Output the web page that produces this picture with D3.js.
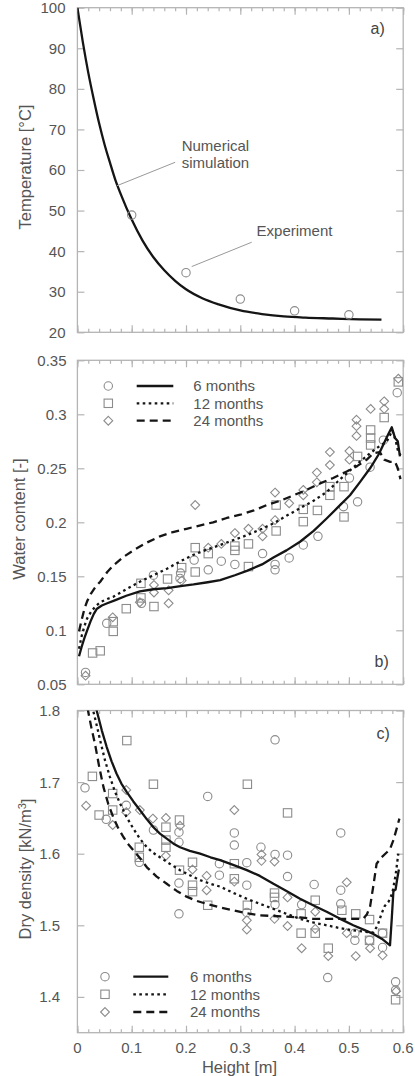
<!DOCTYPE html>
<html>
<head>
<meta charset="utf-8">
<script src="https://cdn.jsdelivr.net/npm/d3@7"></script>
<style>
  html, body { margin: 0; padding: 0; background: #fff; }
  svg { display: block; font-family: "Liberation Sans", Arial, sans-serif; }
</style>
</head>
<body>
<svg id="chart" width="415" height="1076"></svg>
<script>
// ---- tick labels ----
const heightTicks = [0, 0.1, 0.2, 0.3, 0.4, 0.5, 0.6];
const tempTicks = [20, 30, 40, 50, 60, 70, 80, 90, 100];
const waterTicks = [0.05, 0.1, 0.15, 0.2, 0.25, 0.3, 0.35];
const densityTicks = [1.4, 1.5, 1.6, 1.7, 1.8];
const seriesNames = ["6 months", "12 months", "24 months"];

// ---- a) temperature ----
const tempSimX = [0, 0.01, 0.02, 0.03, 0.04, 0.05, 0.06, 0.07, 0.08, 0.10, 0.12, 0.14, 0.16, 0.18, 0.20, 0.23, 0.26, 0.30, 0.34, 0.38, 0.42, 0.47, 0.52, 0.56];
const tempSimY = [100, 91.5, 84, 77.5, 71.5, 66.3, 61.8, 57.5, 54, 47.8, 42.6, 38.5, 35.3, 32.7, 30.6, 28.4, 26.9, 25.4, 24.5, 23.9, 23.6, 23.4, 23.2, 23.1];
const tempExpX = [0.1, 0.2, 0.3, 0.4, 0.5];
const tempExpY = [48.9, 34.7, 28.2, 25.3, 24.3];

// ---- b) water content: simulated profiles [height, value] ----
const water6 = [[0.003,0.076],[0.008,0.085],[0.013,0.093],[0.018,0.1],[0.024,0.108],[0.03,0.115],[0.036,0.12],[0.045,0.123],[0.055,0.125],[0.07,0.128],[0.09,0.132],[0.115,0.136],[0.14,0.138],[0.165,0.139],[0.19,0.141],[0.214,0.1425],[0.24,0.1445],[0.263,0.1465],[0.29,0.151],[0.312,0.155],[0.34,0.161],[0.361,0.1675],[0.385,0.174],[0.41,0.182],[0.435,0.192],[0.459,0.2035],[0.48,0.214],[0.502,0.225],[0.52,0.237],[0.539,0.25],[0.555,0.263],[0.5635,0.272],[0.572,0.281],[0.579,0.288],[0.585,0.278],[0.59,0.275],[0.594,0.261]];
const water12 = [[0.003,0.083],[0.008,0.095],[0.013,0.104],[0.018,0.111],[0.025,0.117],[0.033,0.122],[0.042,0.126],[0.055,0.129],[0.066,0.131],[0.09,0.138],[0.115,0.145],[0.14,0.151],[0.165,0.157],[0.19,0.164],[0.214,0.17],[0.24,0.175],[0.263,0.179],[0.29,0.184],[0.312,0.188],[0.34,0.194],[0.361,0.199],[0.385,0.206],[0.41,0.213],[0.435,0.22],[0.459,0.228],[0.48,0.238],[0.502,0.248],[0.52,0.256],[0.539,0.264],[0.555,0.27],[0.57,0.275],[0.58,0.285],[0.586,0.276],[0.59,0.267],[0.595,0.262]];
const water24 = [[0.003,0.099],[0.008,0.11],[0.013,0.12],[0.018,0.127],[0.025,0.134],[0.033,0.14],[0.042,0.145],[0.055,0.154],[0.066,0.16],[0.085,0.168],[0.103,0.174],[0.127,0.181],[0.152,0.187],[0.176,0.191],[0.201,0.194],[0.225,0.197],[0.25,0.2],[0.275,0.204],[0.3,0.207],[0.325,0.211],[0.349,0.216],[0.374,0.22],[0.398,0.225],[0.422,0.23],[0.447,0.236],[0.471,0.241],[0.496,0.247],[0.515,0.252],[0.533,0.258],[0.545,0.264],[0.557,0.265],[0.565,0.258],[0.576,0.256],[0.585,0.256],[0.59,0.25],[0.595,0.24]];

// ---- b) water content: measurements [height, value] ----
const water6Pts = [[0.015,0.061],[0.054,0.1065],[0.118,0.125],[0.14,0.151],[0.189,0.148],[0.19,0.153],[0.215,0.165],[0.241,0.156],[0.265,0.164],[0.29,0.161],[0.341,0.171],[0.364,0.161],[0.364,0.156],[0.39,0.167],[0.416,0.179],[0.443,0.187],[0.49,0.2145],[0.501,0.241],[0.516,0.219],[0.539,0.251],[0.5635,0.276],[0.589,0.32]];
const water12Pts = [[0.028,0.079],[0.042,0.081],[0.066,0.108],[0.066,0.099],[0.09,0.12],[0.117,0.13],[0.117,0.1435],[0.141,0.122],[0.166,0.1475],[0.192,0.158],[0.217,0.1765],[0.217,0.154],[0.241,0.171],[0.29,0.174],[0.29,0.178],[0.315,0.18],[0.315,0.159],[0.366,0.192],[0.366,0.216],[0.416,0.2006],[0.416,0.212],[0.442,0.211],[0.465,0.225],[0.465,0.233],[0.491,0.205],[0.491,0.233],[0.516,0.261],[0.54,0.2855],[0.54,0.278],[0.54,0.2716],[0.565,0.297],[0.591,0.33]];
const water24Pts = [[0.015,0.058],[0.065,0.112],[0.115,0.126],[0.141,0.142],[0.141,0.135],[0.168,0.137],[0.168,0.125],[0.192,0.146],[0.217,0.216],[0.241,0.1765],[0.265,0.18],[0.29,0.19],[0.315,0.194],[0.341,0.194],[0.341,0.187],[0.364,0.2275],[0.364,0.202],[0.39,0.2176],[0.416,0.23],[0.416,0.225],[0.441,0.246],[0.441,0.237],[0.465,0.265],[0.465,0.253],[0.501,0.266],[0.501,0.258],[0.514,0.295],[0.514,0.289],[0.514,0.28],[0.54,0.305],[0.565,0.312],[0.565,0.305],[0.591,0.333]];

// ---- c) dry density: simulated profiles [height, value] ----
const dens6 = [[0.03,1.84],[0.0355,1.8],[0.045,1.772],[0.054,1.749],[0.063,1.729],[0.072,1.712],[0.081,1.698],[0.091,1.686],[0.103,1.673],[0.115,1.661],[0.128,1.648],[0.14,1.637],[0.152,1.628],[0.1645,1.621],[0.177,1.614],[0.189,1.609],[0.207,1.604],[0.226,1.6],[0.245,1.595],[0.263,1.591],[0.288,1.584],[0.312,1.577],[0.336,1.569],[0.361,1.558],[0.385,1.548],[0.41,1.537],[0.434,1.528],[0.459,1.519],[0.484,1.509],[0.508,1.5],[0.527,1.494],[0.545,1.488],[0.561,1.481],[0.5757,1.472],[0.579,1.51],[0.582,1.548],[0.586,1.55],[0.589,1.565],[0.592,1.578]];
const dens12 = [[0.025,1.84],[0.029,1.8],[0.036,1.778],[0.042,1.758],[0.051,1.73],[0.06,1.707],[0.069,1.687],[0.0786,1.67],[0.09,1.652],[0.103,1.635],[0.115,1.621],[0.128,1.609],[0.14,1.601],[0.152,1.595],[0.17,1.586],[0.189,1.577],[0.207,1.57],[0.226,1.563],[0.245,1.558],[0.263,1.554],[0.288,1.545],[0.312,1.537],[0.336,1.53],[0.361,1.523],[0.385,1.516],[0.41,1.509],[0.434,1.504],[0.459,1.5],[0.484,1.496],[0.508,1.493],[0.53,1.491],[0.545,1.49],[0.553,1.5],[0.56,1.516],[0.566,1.527],[0.573,1.533],[0.58,1.545],[0.586,1.57],[0.591,1.6]];
const dens24 = [[0.016,1.84],[0.0195,1.8],[0.026,1.775],[0.0325,1.753],[0.04,1.722],[0.048,1.693],[0.057,1.669],[0.066,1.651],[0.075,1.636],[0.085,1.623],[0.094,1.613],[0.103,1.605],[0.115,1.594],[0.128,1.581],[0.146,1.568],[0.1645,1.558],[0.183,1.548],[0.201,1.54],[0.22,1.534],[0.238,1.53],[0.262,1.525],[0.287,1.521],[0.311,1.517],[0.336,1.514],[0.36,1.513],[0.385,1.512],[0.41,1.511],[0.434,1.509],[0.459,1.509],[0.483,1.509],[0.505,1.509],[0.526,1.509],[0.533,1.515],[0.539,1.526],[0.545,1.555],[0.551,1.586],[0.56,1.595],[0.57,1.602],[0.576,1.607],[0.582,1.619],[0.588,1.635],[0.593,1.649]];

// ---- c) dry density: measurements [height, value] ----
const dens6Pts = [[0.014,1.692],[0.053,1.648],[0.09,1.6675],[0.114,1.588],[0.14,1.633],[0.187,1.63],[0.187,1.616],[0.187,1.559],[0.187,1.516],[0.24,1.68],[0.2615,1.57],[0.2615,1.586],[0.289,1.629],[0.289,1.612],[0.312,1.5875],[0.312,1.556],[0.312,1.518],[0.338,1.609],[0.364,1.759],[0.364,1.599],[0.364,1.529],[0.387,1.598],[0.387,1.568],[0.413,1.529],[0.436,1.557],[0.461,1.427],[0.485,1.629],[0.485,1.549],[0.485,1.53],[0.511,1.479],[0.511,1.489],[0.538,1.479],[0.562,1.489],[0.562,1.469],[0.586,1.421],[0.586,1.4095]];
const dens12Pts = [[0.0276,1.708],[0.04,1.654],[0.065,1.684],[0.065,1.661],[0.091,1.758],[0.114,1.609],[0.114,1.595],[0.14,1.697],[0.163,1.637],[0.163,1.619],[0.163,1.609],[0.188,1.647],[0.188,1.577],[0.212,1.588],[0.212,1.556],[0.212,1.547],[0.24,1.528],[0.289,1.586],[0.289,1.565],[0.313,1.697],[0.313,1.528],[0.363,1.545],[0.363,1.539],[0.387,1.657],[0.412,1.516],[0.412,1.489],[0.438,1.535],[0.438,1.489],[0.462,1.468],[0.487,1.521],[0.5126,1.516],[0.538,1.508],[0.538,1.479],[0.562,1.489],[0.586,1.396]];
const dens24Pts = [[0.016,1.667],[0.065,1.64],[0.09,1.689],[0.09,1.658],[0.115,1.661],[0.139,1.649],[0.163,1.65],[0.163,1.597],[0.189,1.639],[0.212,1.578],[0.238,1.569],[0.238,1.549],[0.289,1.661],[0.289,1.561],[0.312,1.507],[0.312,1.494],[0.339,1.599],[0.339,1.59],[0.363,1.589],[0.363,1.509],[0.387,1.539],[0.387,1.499],[0.413,1.468],[0.438,1.519],[0.438,1.495],[0.462,1.457],[0.496,1.56],[0.496,1.489],[0.5126,1.457],[0.539,1.468],[0.562,1.458],[0.587,1.408]];

// ---- styling ----
const frameColor = "#b4b4b4";
const markColor = "#8c8c8c";
const textColor = "#555";
const lineDash = [null, "2.6,3.4", "8,5"];
const markerKinds = ["circle", "square", "diamond"];

const svg = d3.select("#chart");
const left = 77.4, right = 403.2;
const x = d3.scaleLinear().domain([0, 0.6]).range([left, right]);

function marker(g, kind, cx, cy) {
  const s = 4.2;
  if (kind === "circle") {
    g.append("circle").attr("cx", cx).attr("cy", cy).attr("r", s)
      .attr("fill", "none").attr("stroke", markColor).attr("stroke-width", 1.1);
  } else if (kind === "square") {
    g.append("rect").attr("x", cx - s).attr("y", cy - s).attr("width", 2 * s).attr("height", 2 * s)
      .attr("fill", "none").attr("stroke", markColor).attr("stroke-width", 1.1);
  } else {
    const d = s * 1.05;
    g.append("path").attr("d", `M${cx},${cy - d}L${cx + d},${cy}L${cx},${cy + d}L${cx - d},${cy}Z`)
      .attr("fill", "none").attr("stroke", markColor).attr("stroke-width", 1.1);
  }
}

function panel(opts) {
  const y = d3.scaleLinear().domain(opts.domain).range([opts.bottom, opts.top]);
  const g = svg.append("g");
  const clipId = "clip-" + opts.id;
  svg.append("clipPath").attr("id", clipId).append("rect")
    .attr("x", left).attr("y", opts.top).attr("width", right - left).attr("height", opts.bottom - opts.top);

  // frame
  g.append("rect").attr("x", left).attr("y", opts.top).attr("width", right - left).attr("height", opts.bottom - opts.top)
    .attr("fill", "none").attr("stroke", frameColor).attr("stroke-width", 1.3);

  // inward ticks on the bottom and top edges (negative tick size points them inside)
  const minor = x.ticks(30);
  [[opts.bottom, d3.axisBottom], [opts.top, d3.axisTop]].forEach(([ypos, ax]) => {
    const aMinor = ax(x).tickValues(minor).tickSize(-3.5).tickFormat("");
    const aMajor = ax(x).tickValues(heightTicks).tickSize(-7).tickFormat("");
    [aMinor, aMajor].forEach(a => {
      const sel = g.append("g").attr("transform", `translate(0,${ypos})`).call(a);
      sel.select(".domain").remove();
      sel.selectAll("line").attr("stroke", frameColor).attr("stroke-width", 1.2);
    });
  });
  // inward ticks on the left and right edges
  const aLeft = d3.axisLeft(y).tickValues(opts.ticks).tickSize(-7).tickFormat("");
  const aRight = d3.axisRight(y).tickValues(opts.ticks).tickSize(-7).tickFormat("");
  [[aLeft, left], [aRight, right]].forEach(([a, xp]) => {
    const sel = g.append("g").attr("transform", `translate(${xp},0)`).call(a);
    sel.select(".domain").remove();
    sel.selectAll("line").attr("stroke", frameColor).attr("stroke-width", 1.2);
  });

  // y tick labels
  g.selectAll(".ylab").data(opts.ticks).enter().append("text")
    .attr("x", opts.labelRight).attr("y", d => y(d)).attr("dy", "0.36em")
    .attr("text-anchor", "end").attr("font-size", 15).attr("fill", textColor)
    .text(opts.fmt);

  // y axis title
  const t = g.append("text")
    .attr("transform", `translate(${opts.titleX},${opts.titleY}) rotate(-90)`)
    .attr("text-anchor", "middle").attr("dy", "0.35em")
    .attr("font-size", 16.5).attr("fill", textColor);
  opts.title(t);

  // panel letter
  g.append("text").attr("x", opts.letterX).attr("y", opts.letterY)
    .attr("font-size", 16).attr("fill", "#444").text(opts.letter);

  const plot = g.append("g").attr("clip-path", `url(#${clipId})`);
  return { g, plot, y };
}

function drawLine(plot, y, pts, dash, curve) {
  const line = d3.line().x(d => x(d[0])).y(d => y(d[1])).curve(curve || d3.curveLinear);
  const p = plot.append("path").datum(pts).attr("d", line)
    .attr("fill", "none").attr("stroke", "#151515").attr("stroke-width", 2.3)
    .attr("stroke-linejoin", "round");
  if (dash) p.attr("stroke-dasharray", dash);
}

function legend(g, cx, rows, x0, x1, tx) {
  rows.forEach((ry, i) => {
    marker(g, markerKinds[i], cx, ry);
    const l = g.append("line").attr("x1", x0).attr("x2", x1).attr("y1", ry).attr("y2", ry)
      .attr("stroke", "#151515").attr("stroke-width", 2.3);
    if (lineDash[i]) l.attr("stroke-dasharray", lineDash[i]);
    g.append("text").attr("x", tx).attr("y", ry).attr("dy", "0.36em")
      .attr("font-size", 15).attr("fill", textColor).text(seriesNames[i]);
  });
}

// ---------- a) temperature ----------
{
  const P = panel({
    id: "a", top: 7.7, bottom: 332.3, domain: [20, 100], ticks: tempTicks,
    fmt: d => d, labelRight: 65.5, titleX: 25, titleY: 167,
    title: t => t.text("Temperature [°C]"),
    letter: "a)", letterX: 370.5, letterY: 34
  });
  const sim = tempSimX.map((v, i) => [v, tempSimY[i]]);
  drawLine(P.plot, P.y, sim, null, d3.curveMonotoneX);
  tempExpX.forEach((v, i) => marker(P.plot, "circle", x(v), P.y(tempExpY[i])));

  // annotations with leader lines
  const ann = P.g;
  ann.append("line").attr("x1", x(0.18)).attr("y1", P.y(61.9)).attr("x2", x(0.0724)).attr("y2", P.y(56.1))
    .attr("stroke", "#999").attr("stroke-width", 1);
  ann.append("line").attr("x1", x(0.321)).attr("y1", P.y(42.2)).attr("x2", x(0.2105)).attr("y2", P.y(36.2))
    .attr("stroke", "#999").attr("stroke-width", 1);
  ann.append("text").attr("x", x(0.192)).attr("y", P.y(66.1)).attr("dy", "0.36em")
    .attr("font-size", 15).attr("fill", textColor).text("Numerical");
  ann.append("text").attr("x", x(0.192)).attr("y", P.y(61.75)).attr("dy", "0.36em")
    .attr("font-size", 15).attr("fill", textColor).text("simulation");
  ann.append("text").attr("x", x(0.33)).attr("y", P.y(44.95)).attr("dy", "0.36em")
    .attr("font-size", 15).attr("fill", textColor).text("Experiment");
}

// ---------- b) water content ----------
{
  const P = panel({
    id: "b", top: 360.3, bottom: 684.3, domain: [0.05, 0.35], ticks: waterTicks,
    fmt: d => d3.format("")(+d.toFixed(2)), labelRight: 66.5, titleX: 19, titleY: 519,
    title: t => t.text("Water content [-]"),
    letter: "b)", letterX: 374.5, letterY: 666.5
  });
  [water6Pts, water12Pts, water24Pts].forEach((pts, i) =>
    pts.forEach(d => marker(P.plot, markerKinds[i], x(d[0]), P.y(d[1]))));
  [water6, water12, water24].forEach((pts, i) => drawLine(P.plot, P.y, pts, lineDash[i]));
  legend(P.g, 108.3, [386, 403.3, 420.7], 136.7, 173.3, 193.3);
}

// ---------- c) dry density ----------
{
  const P = panel({
    id: "c", top: 710.5, bottom: 1032.7, domain: [1.35, 1.8], ticks: densityTicks,
    fmt: d => d.toFixed(1), labelRight: 60, titleX: 25, titleY: 869,
    title: t => {
      t.append("tspan").text("Dry density [kN/m");
      t.append("tspan").attr("dy", "-0.45em").attr("font-size", 11).text("3");
      t.append("tspan").attr("dy", "0.45em").text("]");
    },
    letter: "c)", letterX: 376.5, letterY: 739
  });
  [dens6Pts, dens12Pts, dens24Pts].forEach((pts, i) =>
    pts.forEach(d => marker(P.plot, markerKinds[i], x(d[0]), P.y(d[1]))));
  [dens6, dens12, dens24].forEach((pts, i) => drawLine(P.plot, P.y, pts, lineDash[i]));
  legend(P.g, 105, [976.7, 994.3, 1012], 133.3, 168.3, 190);

  // x tick labels and axis title
  P.g.selectAll(".xlab").data(heightTicks).enter().append("text")
    .attr("x", d => x(d)).attr("y", 1048).attr("dy", "0.36em")
    .attr("text-anchor", "middle").attr("font-size", 15).attr("fill", textColor)
    .text(d => d);
  P.g.append("text").attr("x", 239.5).attr("y", 1066.7).attr("dy", "0.36em")
    .attr("text-anchor", "middle").attr("font-size", 16.5).attr("fill", textColor)
    .text("Height [m]");
}
</script>
</body>
</html>
